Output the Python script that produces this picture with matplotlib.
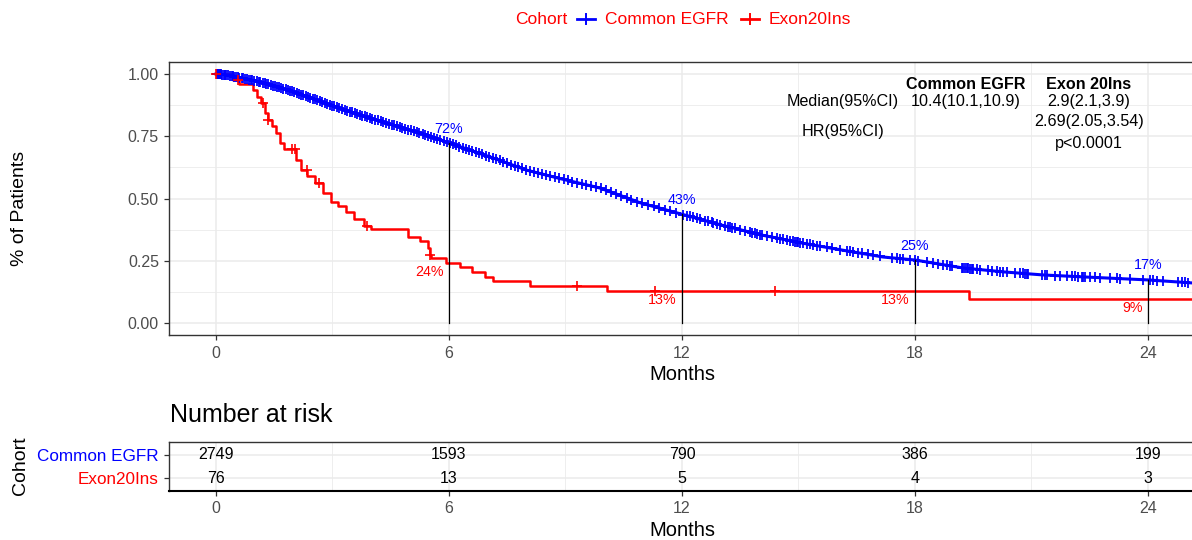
import numpy as np
import matplotlib
matplotlib.use("Agg")
import matplotlib.pyplot as plt
from matplotlib.lines import Line2D
from matplotlib.ticker import MultipleLocator

plt.rcParams['font.family'] = ['Liberation Sans', 'DejaVu Sans']

# ---- data ----
groups = ["Common EGFR", "Exon20Ins"]
colors = ["#0000FF", "#FF0000"]

# Common EGFR curve (dense, drawn as a line through read points)
egfr_time = [0, 0.28, 1.13, 1.98, 2.86, 3.71, 4.56, 5.43, 6.0, 7.13, 8.0, 8.86,
             9.89, 10.94, 11.97, 13.0, 14.06, 15.09, 16.12, 17.18, 18.0, 19.24,
             20.3, 21.3, 22.35, 24.0, 25.13]
egfr_surv = [1.0, 0.996, 0.968, 0.93, 0.88, 0.835, 0.795, 0.755, 0.723, 0.663, 0.614, 0.58,
             0.542, 0.482, 0.438, 0.394, 0.353, 0.321, 0.293, 0.265, 0.253, 0.221,
             0.205, 0.193, 0.185, 0.173, 0.161]
egfr_censor = [0.02, 0.05, 0.08, 0.1, 0.13, 0.16, 0.2, 0.24, 0.27, 0.31, 0.35, 0.4, 0.44,
               0.47, 0.52, 0.57, 0.6, 0.66, 0.7, 0.75, 0.79, 0.84, 0.9, 0.94, 0.99, 1.05,
               1.1, 1.14, 1.2, 1.26, 1.3, 1.35, 1.41, 1.46, 1.52, 1.57, 1.62, 1.68, 1.73,
               1.8, 1.85, 1.9, 1.96, 2.02, 2.08, 2.13, 2.2, 2.25, 2.31, 2.38, 2.43, 2.5,
               2.55, 2.61, 2.68, 2.74, 2.8, 2.86, 2.93, 2.99, 3.05, 3.12, 3.18, 3.24,
               3.31, 3.37, 3.44, 3.5, 3.57, 3.63, 3.7, 3.77, 3.83, 3.9, 3.97, 4.03, 4.1,
               4.17, 4.24, 4.3, 4.37, 4.45, 4.52, 4.58, 4.66, 4.73, 4.8, 4.87, 4.95,
               5.02, 5.09, 5.17, 5.24, 5.32, 5.39, 5.47, 5.55, 5.62, 5.7, 5.78, 5.86,
               5.94, 6.02, 6.1, 6.18, 6.27, 6.35, 6.43, 6.52, 6.6, 6.69, 6.78, 6.86,
               6.95, 7.04, 7.13, 7.22, 7.31, 7.4, 7.5, 7.6, 7.69, 7.79, 7.88, 7.98,
               8.08, 8.19, 8.29, 8.4, 8.5, 8.61, 8.72, 8.83, 8.95, 9.06, 9.18, 9.3,
               9.42, 9.54, 9.66, 9.79, 9.92, 10.05, 10.18, 10.3, 10.44, 10.58, 10.7,
               10.85, 10.98, 11.12, 11.27, 11.4, 11.56, 11.7, 11.85,
               12.03, 12.13, 12.21, 12.28, 12.39, 12.46, 12.59, 12.67, 12.77, 12.8,
               12.9, 12.98, 13.11, 13.19, 13.24, 13.29, 13.37, 13.49, 13.62, 13.75,
               13.8, 13.88, 13.93, 14.01, 14.06, 14.19, 14.32, 14.45, 14.52, 14.6,
               14.7, 14.78, 14.86, 14.91, 14.96, 14.99, 15.04, 15.12, 15.22, 15.3,
               15.37, 15.48, 15.55, 15.73, 15.86, 16.07, 16.25, 16.33, 16.4, 16.53,
               16.64, 16.79, 16.92, 17.1, 17.41, 17.54, 17.61, 17.69, 17.87, 18.0,
               18.08, 18.31, 18.47, 18.59, 18.72, 18.83, 18.9, 18.95, 19.21, 19.24,
               19.29, 19.34, 19.37, 19.42, 19.47, 19.5, 19.6, 19.68, 19.88, 19.98,
               20.11, 20.19, 20.27, 20.37, 20.58, 20.71, 20.78, 20.83, 20.89, 20.91,
               21.27, 21.35, 21.4, 21.61, 21.74, 21.92, 22.04, 22.12, 22.2, 22.3,
               22.33, 22.38, 22.51, 22.64, 22.77, 23.02, 23.2, 23.28, 23.54, 23.87,
               24.05, 24.13, 24.23, 24.39, 24.77, 24.88, 24.96, 25.03]

# Exon20Ins step curve
exon_time = [0, 0.45, 0.6, 0.95, 1.05, 1.15, 1.25, 1.35, 1.45, 1.55, 1.65, 1.75, 2.05,
             2.2, 2.35, 2.55, 2.75, 2.95, 3.15, 3.35, 3.55, 3.8, 4.0, 4.95, 5.25, 5.45,
             5.5, 5.55, 5.92, 6.28, 6.59, 6.93, 7.13, 8.09, 10.07, 19.39, 25.3]
exon_surv = [1.0, 0.974, 0.961, 0.935, 0.908, 0.882, 0.842, 0.816, 0.79, 0.763, 0.724,
             0.697, 0.656, 0.616, 0.59, 0.563, 0.523, 0.484, 0.47, 0.444, 0.417, 0.391,
             0.378, 0.345, 0.329, 0.3, 0.275, 0.261, 0.241, 0.225, 0.205, 0.185, 0.169,
             0.149, 0.129, 0.097, 0.097]
exon_censor = [0.0, 0.57, 1.2, 1.35, 1.95, 2.03, 2.34, 2.65, 3.9, 5.5, 9.3, 11.3, 14.4]

mark_times = [6, 12, 18, 24]
egfr_pct = ["72%", "43%", "25%", "17%"]
exon_pct = ["24%", "13%", "13%", "9%"]

risk_times = [0, 6, 12, 18, 24]
risk_egfr = [2749, 1593, 790, 386, 199]
risk_exon = [76, 13, 5, 4, 3]

# ---- figure ----
W, H = 1192, 540
fig = plt.figure(figsize=(W / 100, H / 100), dpi=100)
x_left, x_right = 169.4, 1194.5
ax = fig.add_axes([x_left / W, 1 - 335.45 / H, (x_right - x_left) / W, 273.9 / H])
rax = fig.add_axes([x_left / W, 1 - 491 / H, (x_right - x_left) / W, 49 / H])

tick_col = "#4D4D4D"
border = "#333333"
grid_col = "#EBEBEB"


def style(a):
    a.set_xlim(-1.2, 25.2)
    a.xaxis.set_major_locator(MultipleLocator(6))
    a.xaxis.set_minor_locator(MultipleLocator(3))
    a.grid(which="major", color=grid_col, lw=1.1, zorder=0)
    a.grid(which="minor", color=grid_col, lw=0.6, zorder=0)
    a.tick_params(which="major", length=3.5, width=0.9, color=border, labelcolor=tick_col,
                  labelsize=11.5, pad=4)
    a.tick_params(which="minor", length=0)
    for s in a.spines.values():
        s.set_color(border)
        s.set_linewidth(1.0)
    a.set_axisbelow(True)


style(ax)
ax.set_ylim(-0.05, 1.05)
ax.yaxis.set_minor_locator(MultipleLocator(0.125))
ax.set_yticks([0, 0.25, 0.5, 0.75, 1.0])
ax.set_yticklabels(["0.00", "0.25", "0.50", "0.75", "1.00"])

# curves
ax.plot(egfr_time, egfr_surv, color=colors[0], lw=2.2, zorder=3)
ax.plot(egfr_censor, np.interp(egfr_censor, egfr_time, egfr_surv), ls="none",
        marker="+", ms=7.5, mew=1.3, color=colors[0], zorder=4)
ax.step(exon_time, exon_surv, where="post", color=colors[1], lw=1.8, zorder=3)
exon_c_y = [exon_surv[np.searchsorted(exon_time, t, side="right") - 1] for t in exon_censor]
ax.plot(exon_censor, exon_c_y, ls="none", marker="+", ms=7, mew=1.2, color=colors[1], zorder=4)

# landmark lines and labels
for t, bl, rl in zip(mark_times, egfr_pct, exon_pct):
    sb = np.interp(t, egfr_time, egfr_surv)
    sr = exon_surv[np.searchsorted(exon_time, t, side="right") - 1]
    ax.plot([t, t], [0, sb], color="black", lw=0.9, zorder=5)
    ax.text(t, sb + 0.058, bl, color=colors[0], fontsize=10.3, ha="center", va="center", zorder=6)
    ax.text(t - 0.13, sr - 0.036, rl, color=colors[1], fontsize=10.3, ha="right", va="center",
            zorder=6)

# summary table in the plot
fs = 11.6
ax.text(19.31, 0.956, "Common EGFR", fontsize=fs, weight="bold", ha="center", va="center")
ax.text(22.48, 0.956, "Exon 20Ins", fontsize=fs, weight="bold", ha="center", va="center")
ax.text(16.15, 0.888, "Median(95%CI)", fontsize=fs, ha="center", va="center")
ax.text(19.31, 0.888, "10.4(10.1,10.9)", fontsize=fs, ha="center", va="center")
ax.text(22.48, 0.888, "2.9(2.1,3.9)", fontsize=fs, ha="center", va="center")
ax.text(22.48, 0.811, "2.69(2.05,3.54)", fontsize=fs, ha="center", va="center")
ax.text(16.15, 0.771, "HR(95%CI)", fontsize=fs, ha="center", va="center")
ax.text(22.48, 0.719, "p<0.0001", fontsize=fs, ha="center", va="center")

# ---- risk table ----
style(rax)
rax.set_ylim(0.435, 2.565)
rax.set_yticks([2, 1])
rax.set_yticklabels(groups, fontsize=12.3)
for lab, c in zip(rax.get_yticklabels(), colors):
    lab.set_color(c)
rax.spines["bottom"].set_color("black")
rax.spines["bottom"].set_linewidth(1.5)
for t, a, b in zip(risk_times, risk_egfr, risk_exon):
    rax.text(t, 2, str(a), fontsize=11.5, ha="center", va="center", color="black")
    rax.text(t, 1, str(b), fontsize=11.5, ha="center", va="center", color="black")

# titles
fig.text(682 / W, 1 - 375 / H, "Months", fontsize=14.5, ha="center", va="center")
fig.text(682 / W, 1 - 530 / H, "Months", fontsize=14.5, ha="center", va="center")
fig.text(20 / W, 1 - 208 / H, "% of Patients", fontsize=14, rotation=90, ha="center",
         va="center")
fig.text(20 / W, 1 - 466 / H, "Cohort", fontsize=14, rotation=90, ha="center", va="center")
fig.text(170 / W, 1 - 415 / H, "Number at risk", fontsize=18, ha="left", va="center")

# legend on top
ly = 1 - 19 / H
fig.text(515 / W, ly, "Cohort", fontsize=12.5, color="#FF0000", ha="left", va="center")
for kx, tx, g, c in [(586, 605, groups[0], colors[0]), (750, 769, "Exon20Ins", colors[1])]:
    fig.add_artist(Line2D([(kx - 9) / W, (kx + 9) / W], [ly, ly], color=c, lw=2.0))
    fig.add_artist(Line2D([kx / W, kx / W], [ly - 5 / H, ly + 5 / H], color=c, lw=1.4))
    fig.text(tx / W, ly, g, fontsize=12.5, color="#FF0000", ha="left", va="center")

fig.savefig("out.png", dpi=100)
